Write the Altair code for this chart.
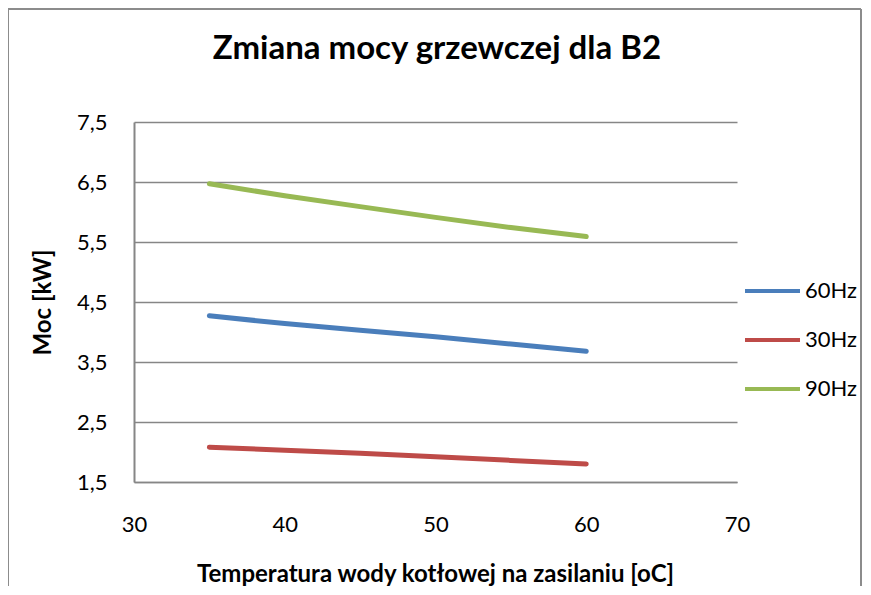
import altair as alt
import pandas as pd

temps = [35, 40, 45, 50, 55, 60]
hz60 = [4.27, 4.14, 4.03, 3.92, 3.80, 3.68]
hz30 = [2.08, 2.03, 1.98, 1.92, 1.86, 1.80]
hz90 = [6.47, 6.27, 6.09, 5.91, 5.74, 5.59]
series_names = ["60Hz", "30Hz", "90Hz"]
series_colors = ["#4A7EBB", "#BE4B48", "#98B954"]
x_ticks = [30, 40, 50, 60, 70]
y_ticks = [1.5, 2.5, 3.5, 4.5, 5.5, 6.5, 7.5]
chart_title = "Zmiana mocy grzewczej dla B2"

rows = []
for name, vals in zip(series_names, [hz60, hz30, hz90]):
    for t, v in zip(temps, vals):
        rows.append({"T": t, "P": v, "series": name})
df = pd.DataFrame(rows)

FONT = "Lato"
GRID = "#868686"

lines = alt.Chart(df).mark_line(strokeWidth=5, strokeCap="round", strokeJoin="round").encode(
    x=alt.X("T:Q", scale=alt.Scale(domain=[30, 70], nice=False, zero=False),
            axis=alt.Axis(values=x_ticks, title="Temperatura wody kotłowej na zasilaniu [oC]",
                          grid=False, ticks=False, domainColor=GRID, domainWidth=1.5,
                          labelFontSize=22, labelPadding=42, labelColor="#000",
                          labelBaseline="middle", labelFlush=False,
                          titleFontSize=24, titleFontWeight="bold", titleColor="#000",
                          titleX=301, titleY=92, titleBaseline="middle", titleAlign="center")),
    y=alt.Y("P:Q", scale=alt.Scale(domain=[1.5, 7.5], nice=False, zero=False),
            axis=alt.Axis(values=y_ticks, title="Moc [kW]",
                          labelExpr="replace(format(datum.value, '.1f'), '.', ',')",
                          grid=True, gridColor=GRID, gridWidth=1.5, ticks=False,
                          domainColor=GRID, domainWidth=2,
                          labelFontSize=22, labelPadding=27, labelColor="#000",
                          titleFontSize=24, titleFontWeight="bold", titleColor="#000",
                          titleAngle=-90, titleX=-91, titleY=180,
                          titleBaseline="middle", titleAlign="center")),
    color=alt.Color("series:N", scale=alt.Scale(domain=series_names, range=series_colors),
                    sort=series_names,
                    legend=alt.Legend(title=None, orient="none", legendX=609, legendY=159,
                                      symbolType="stroke", symbolSize=3025, symbolStrokeWidth=4,
                                      clipHeight=20, rowPadding=27, labelFontSize=22,
                                      labelOffset=3, labelColor="#000", padding=0)),
)

title_df = pd.DataFrame({"t": [chart_title]})
title = alt.Chart(title_df).mark_text(font=FONT, fontSize=33, fontWeight="bold", color="#000",
                                      align="center", baseline="alphabetic").encode(
    text="t:N", x=alt.value(303), y=alt.value(-63))

frame_df = pd.DataFrame({"a": [0]})
left = alt.Chart(frame_df).mark_rule(color="#8c8c8c", strokeWidth=2).encode(
    x=alt.value(-126), y=alt.value(-113), y2=alt.value(466))
top = alt.Chart(frame_df).mark_rule(color="#8c8c8c", strokeWidth=2).encode(
    x=alt.value(-126), x2=alt.value(727), y=alt.value(-113))
right = alt.Chart(frame_df).mark_rule(color="#8c8c8c", strokeWidth=2).encode(
    x=alt.value(727), y=alt.value(-113), y2=alt.value(466))

chart = alt.layer(lines, title, left, top, right).properties(
    width=603, height=360,
    autosize=alt.AutoSizeParams(type="none"),
    padding={"left": 126, "top": 114, "right": 126, "bottom": 104},
).configure(font=FONT).configure_view(stroke=None).configure_axis(
    labelFont=FONT, titleFont=FONT).configure_legend(labelFont=FONT)

chart.save("out.html", embed_options={"renderer": "svg", "actions": False})
